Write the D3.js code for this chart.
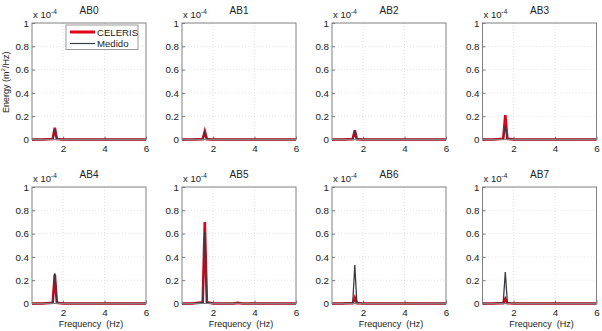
<!DOCTYPE html>
<html>
<head>
<meta charset="utf-8">
<script src="https://cdn.jsdelivr.net/npm/d3@7"></script>
<style>
  body { margin: 0; background: #fff; }
  svg { display: block; }
  text { font-family: "Liberation Sans", Arial, sans-serif; fill: #222; }
</style>
</head>
<body>
<div id="chart"></div>
<script>
// Stations, one panel each
const stations = ["AB0", "AB1", "AB2", "AB3", "AB4", "AB5", "AB6", "AB7"];

// Frequency grid (Hz)
const freq = [0.5, 1.0, 1.5, 1.6, 1.7, 2.0, 3.0, 3.2, 3.4, 4.0, 5.0, 6.0];

// Spectral energy, units of 1e-4 m^2/Hz
const celeris = [
    [0, 0, 0.004, 0.10, 0.004, 0, 0, 0, 0, 0, 0, 0],
    [0, 0, 0.003, 0.07, 0.003, 0, 0, 0, 0, 0, 0, 0],
    [0, 0, 0.003, 0.08, 0.003, 0, 0, 0, 0, 0, 0, 0],
    [0, 0, 0.006, 0.21, 0.006, 0, 0, 0, 0, 0, 0, 0],
    [0, 0, 0.006, 0.25, 0.006, 0, 0, 0, 0, 0, 0, 0],
    [0, 0, 0.01, 0.70, 0.01, 0, 0, 0.005, 0, 0, 0, 0],
    [0, 0, 0.003, 0.05, 0.003, 0, 0, 0, 0, 0, 0, 0],
    [0, 0, 0.003, 0.04, 0.003, 0, 0, 0, 0, 0, 0, 0]
];
const medido = [
    [0, 0, 0.003, 0.09, 0.003, 0, 0, 0, 0, 0, 0, 0],
    [0, 0, 0.002, 0.065, 0.002, 0, 0, 0, 0, 0, 0, 0],
    [0, 0, 0.002, 0.075, 0.002, 0, 0, 0, 0, 0, 0, 0],
    [0, 0, 0.004, 0.12, 0.004, 0, 0, 0, 0, 0, 0, 0],
    [0, 0, 0.006, 0.26, 0.006, 0, 0, 0, 0, 0, 0, 0],
    [0, 0, 0.01, 0.62, 0.01, 0, 0, 0.004, 0, 0, 0, 0],
    [0, 0, 0.006, 0.33, 0.006, 0, 0, 0, 0, 0, 0, 0],
    [0, 0, 0.005, 0.27, 0.005, 0, 0, 0, 0, 0, 0, 0]
];

const xTicks = [2, 4, 6];
const yTicks = [0, 0.2, 0.4, 0.6, 0.8, 1];
const seriesNames = ["CELERIS", "Medido"];

const W = 602, H = 331;
const colLeft = [32, 182, 332, 482.5];
const rowTop = [23, 187];
const pw = 114, ph = 116.5;
const red = "#e3001b", dark = "#3a3c44";

const svg = d3.select("#chart").append("svg")
    .attr("width", W).attr("height", H);

const x = d3.scaleLinear().domain([0.5, 6]).range([0, pw]);
const y = d3.scaleLinear().domain([0, 1]).range([ph, 0]);

const line = d3.line()
    .x((d, i) => x(freq[i]))
    .y(d => y(d));

stations.forEach((name, k) => {
    const row = Math.floor(k / 4), col = k % 4;
    const g = svg.append("g")
        .attr("transform", `translate(${colLeft[col]},${rowTop[row]})`);

    // grid
    g.append("g").selectAll("line").data(xTicks.slice(0, -1)).join("line")
        .attr("x1", d => x(d)).attr("x2", d => x(d))
        .attr("y1", 0).attr("y2", ph)
        .attr("stroke", "#d0d0d0").attr("stroke-width", 0.6)
        .attr("stroke-dasharray", "1,2");
    g.append("g").selectAll("line").data(yTicks.slice(1, -1)).join("line")
        .attr("x1", 0).attr("x2", pw)
        .attr("y1", d => y(d)).attr("y2", d => y(d))
        .attr("stroke", "#d0d0d0").attr("stroke-width", 0.6)
        .attr("stroke-dasharray", "1,2");

    // axes, ticks inward
    const ax = g.append("g")
        .attr("transform", `translate(0,${ph})`)
        .call(d3.axisBottom(x).tickValues(xTicks).tickSize(-3).tickPadding(6)
            .tickFormat(d3.format("d")));
    const ay = g.append("g")
        .call(d3.axisLeft(y).tickValues(yTicks).tickSize(-3).tickPadding(3)
            .tickFormat(d => d === 0 ? "0" : d === 1 ? "1" : d3.format(".1f")(d)));
    [ax, ay].forEach(a => {
        a.select(".domain").remove();
        a.selectAll(".tick line").attr("stroke", "#777");
        a.selectAll("text").attr("font-size", 9.8)
            .attr("font-family", "Liberation Sans, Arial, sans-serif").attr("fill", "#222");
    });

    // series
    g.append("path").datum(celeris[k]).attr("d", line)
        .attr("fill", "none").attr("stroke", red).attr("stroke-width", 2.6)
        .attr("stroke-linejoin", "miter");
    g.append("path").datum(medido[k]).attr("d", line)
        .attr("fill", "none").attr("stroke", dark).attr("stroke-width", 1.3);

    // frame
    g.append("rect").attr("width", pw).attr("height", ph)
        .attr("fill", "none").attr("stroke", "#808080").attr("stroke-width", 1);

    // title and exponent
    g.append("text").attr("x", pw / 2).attr("y", -9)
        .attr("text-anchor", "middle").attr("font-size", 10).text(name);
    const ex = g.append("text").attr("x", 1).attr("y", -5).attr("font-size", 9.5);
    ex.append("tspan").text("x 10");
    ex.append("tspan").attr("dy", -4).attr("font-size", 6.5).text("-4");

    if (row === 1) {
        g.append("text").attr("x", pw / 2 + 2).attr("y", ph + 23.5)
            .attr("text-anchor", "middle").attr("font-size", 9)
            .attr("font-family", "Open Sans, sans-serif")
            .attr("xml:space", "preserve")
            .text("Frequency  (Hz)");
    }

    if (k === 0) {
        // y label
        const yl = g.append("text")
            .attr("transform", `translate(-23,${ph / 2 + 1}) rotate(-90)`)
            .attr("text-anchor", "middle").attr("font-size", 9);
        yl.append("tspan").text("Energy (m");
        yl.append("tspan").attr("dy", -4).attr("font-size", 6).text("2");
        yl.append("tspan").attr("dy", 4).text("/Hz)");

        // legend
        const lg = g.append("g").attr("transform", "translate(34,2)");
        lg.append("rect").attr("width", 72).attr("height", 24.5)
            .attr("fill", "#fff").attr("stroke", "#808080").attr("stroke-width", 0.8);
        seriesNames.forEach((s, i) => {
            lg.append("line").attr("x1", 4).attr("x2", 29)
                .attr("y1", 7 + i * 11.5).attr("y2", 7 + i * 11.5)
                .attr("stroke", i === 0 ? red : dark)
                .attr("stroke-width", i === 0 ? 3 : 1.2);
            lg.append("text").attr("x", 31).attr("y", 10.5 + i * 11.5)
                .attr("font-size", 9.6).text(s);
        });
    }
});
</script>
</body>
</html>
